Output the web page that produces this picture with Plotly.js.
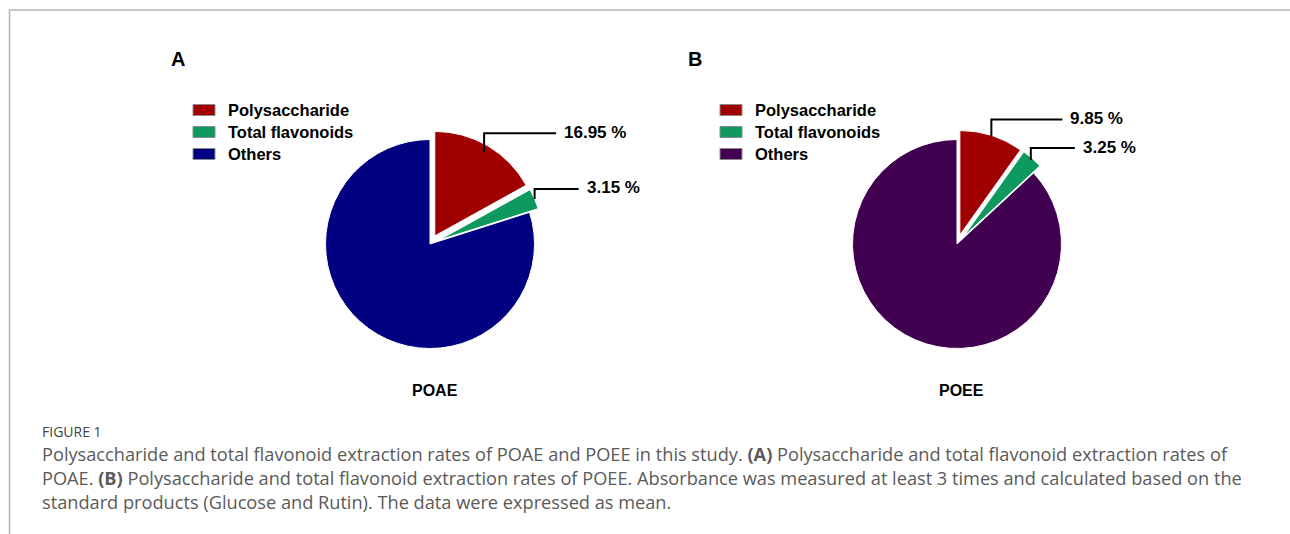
<!DOCTYPE html>
<html><head><meta charset="utf-8">
<script src="https://cdn.plot.ly/plotly-3.0.1.min.js"></script>
<style>html,body{margin:0;padding:0;background:#fff}#chart{width:1290px;height:534px}</style>
</head><body><div id="chart"></div>
<script>
// ---------- data ----------
const sliceLabels = ['Polysaccharide', 'Total flavonoids', 'Others'];
const poaeValues = [16.95, 3.15, 79.90];
const poeeValues = [9.85, 3.25, 86.90];
const panelNames = ['POAE', 'POEE'];
const panelLetters = ['A', 'B'];
const figureLabel = 'FIGURE 1';
const captionLines = [
  'Polysaccharide and total flavonoid extraction rates of POAE and POEE in this study. <b>(A)</b> Polysaccharide and total flavonoid extraction rates of',
  'POAE. <b>(B)</b> Polysaccharide and total flavonoid extraction rates of POEE. Absorbance was measured at least 3 times and calculated based on the',
  'standard products (Glucose and Rutin). The data were expressed as mean.'
];

// ---------- style / layout ----------
const W = 1290, H = 534;
const colorsA = ['#A00000', '#0E9A5F', '#000080'];
const colorsB = ['#A00000', '#0E9A5F', '#420050'];
const pulls = [0.09, 0.09, 0];
const pieR = 104.5;
const pieCenters = [[430, 244], [957, 244]];
const letterX = [178, 695];
const legendX = [193, 720];
const legendRowY = [110, 132, 154];
const leaderDepth = [[0.93, 1.0], [0.99, 0.98]];
const leaderRise = [[19, 10], [17, 12]];
const leaderRun = [[72, 44], [71, 44]];
const boldFont = 'Liberation Sans, Arial, sans-serif';
const captionFont = 'Open Sans, Lato, sans-serif';
const px = x => x / W;
const py = y => 1 - y / H;

function domainFor(c) {
  const half = pieR * (1 + Math.max(...pulls));
  return {
    x: [px(c[0] - half), px(c[0] + half)],
    y: [py(c[1] + half), py(c[1] - half)]
  };
}

const traces = [poaeValues, poeeValues].map((vals, i) => ({
  type: 'pie',
  labels: sliceLabels,
  values: vals,
  sort: false,
  direction: 'clockwise',
  rotation: 0,
  pull: pulls,
  textinfo: 'none',
  hoverinfo: 'label+value',
  marker: {colors: i === 0 ? colorsA : colorsB, line: {color: '#ffffff', width: 1}},
  domain: domainFor(pieCenters[i]),
  showlegend: false
}));

const annotations = [];
const shapes = [];

// frame lines
shapes.push({type: 'line', xref: 'paper', yref: 'paper', x0: px(9), x1: px(1290), y0: py(10), y1: py(10), line: {color: '#b4b4b4', width: 1.5}});
shapes.push({type: 'line', xref: 'paper', yref: 'paper', x0: px(9.5), x1: px(9.5), y0: py(10), y1: py(534), line: {color: '#b4b4b4', width: 1.5}});

panelLetters.forEach((L, i) => {
  const cx = pieCenters[i][0];
  annotations.push({text: '<b>' + L + '</b>', x: px(letterX[i]), y: py(59), xref: 'paper', yref: 'paper', xanchor: 'center', yanchor: 'middle', showarrow: false, font: {family: boldFont, size: 20, color: '#000'}});
  annotations.push({text: '<b>' + panelNames[i] + '</b>', x: px(cx + 5), y: py(390), xref: 'paper', yref: 'paper', xanchor: 'center', yanchor: 'middle', showarrow: false, font: {family: boldFont, size: 16, color: '#000'}});
  const cols = i === 0 ? colorsA : colorsB;
  sliceLabels.forEach((lab, j) => {
    const yc = legendRowY[j];
    shapes.push({type: 'rect', xref: 'paper', yref: 'paper', x0: px(legendX[i]), x1: px(legendX[i] + 22), y0: py(yc - 5.5), y1: py(yc + 5.5), fillcolor: cols[j], line: {color: '#8a8a8a', width: 1}});
    annotations.push({text: '<b>' + lab + '</b>', x: px(legendX[i] + 33), y: py(yc), xref: 'paper', yref: 'paper', xanchor: 'left', yanchor: 'middle', showarrow: false, font: {family: boldFont, size: 16.5, color: '#000'}});
  });
});

annotations.push({text: figureLabel, x: px(40), y: py(431), xref: 'paper', yref: 'paper', xanchor: 'left', yanchor: 'middle', showarrow: false, font: {family: captionFont, size: 14, color: '#444444'}});
captionLines.forEach((t, k) => {
  annotations.push({text: t, x: px(40), y: py(454 + 24 * k), xref: 'paper', yref: 'paper', xanchor: 'left', yanchor: 'middle', showarrow: false, font: {family: captionFont, size: 18.2, color: '#5a5a5a'}});
});

const layout = {
  width: W, height: H,
  margin: {l: 0, r: 0, t: 0, b: 0},
  paper_bgcolor: '#ffffff',
  showlegend: false,
  annotations: annotations,
  shapes: shapes
};

Plotly.newPlot('chart', traces, layout, {displayModeBar: false, staticPlot: true}).then(gd => {
  const extraAnn = [], extraShapes = [];
  [poaeValues, poeeValues].forEach((vals, i) => {
    let cx = pieCenters[i][0], cy = pieCenters[i][1], r = pieR;
    try {
      const cd0 = gd.calcdata[i][0];
      if (isFinite(cd0.cx) && isFinite(cd0.r)) { cx = cd0.cx; cy = cd0.cy; r = cd0.r; }
    } catch (e) {}
    const total = vals.reduce((a, b) => a + b, 0);
    let cum = 0;
    vals.forEach((v, j) => {
      const mid = (cum + v / 2) / total;
      cum += v;
      if (j > 1) return;
      const th = 2 * Math.PI * mid;
      const s = Math.sin(th), c = Math.cos(th);
      const pcx = cx + pulls[j] * r * s, pcy = cy - pulls[j] * r * c;
      const k = leaderDepth[i][j];
      const ax = pcx + k * r * s, ay = pcy - k * r * c;
      const ey = ay - leaderRise[i][j];
      const ex = ax + leaderRun[i][j];
      extraShapes.push({type: 'path', xref: 'paper', yref: 'paper',
        path: 'M' + px(ax) + ',' + py(ay) + ' L' + px(ax) + ',' + py(ey) + ' L' + px(ex) + ',' + py(ey),
        line: {color: '#000000', width: 2}});
      extraAnn.push({text: '<b>' + v.toFixed(2) + ' %</b>', x: px(ex + 6), y: py(ey - 1), xref: 'paper', yref: 'paper', xanchor: 'left', yanchor: 'middle', showarrow: false, font: {family: boldFont, size: 17, color: '#000'}});
    });
  });
  return Plotly.relayout(gd, {annotations: annotations.concat(extraAnn), shapes: shapes.concat(extraShapes)});
});
</script>
</body></html>
